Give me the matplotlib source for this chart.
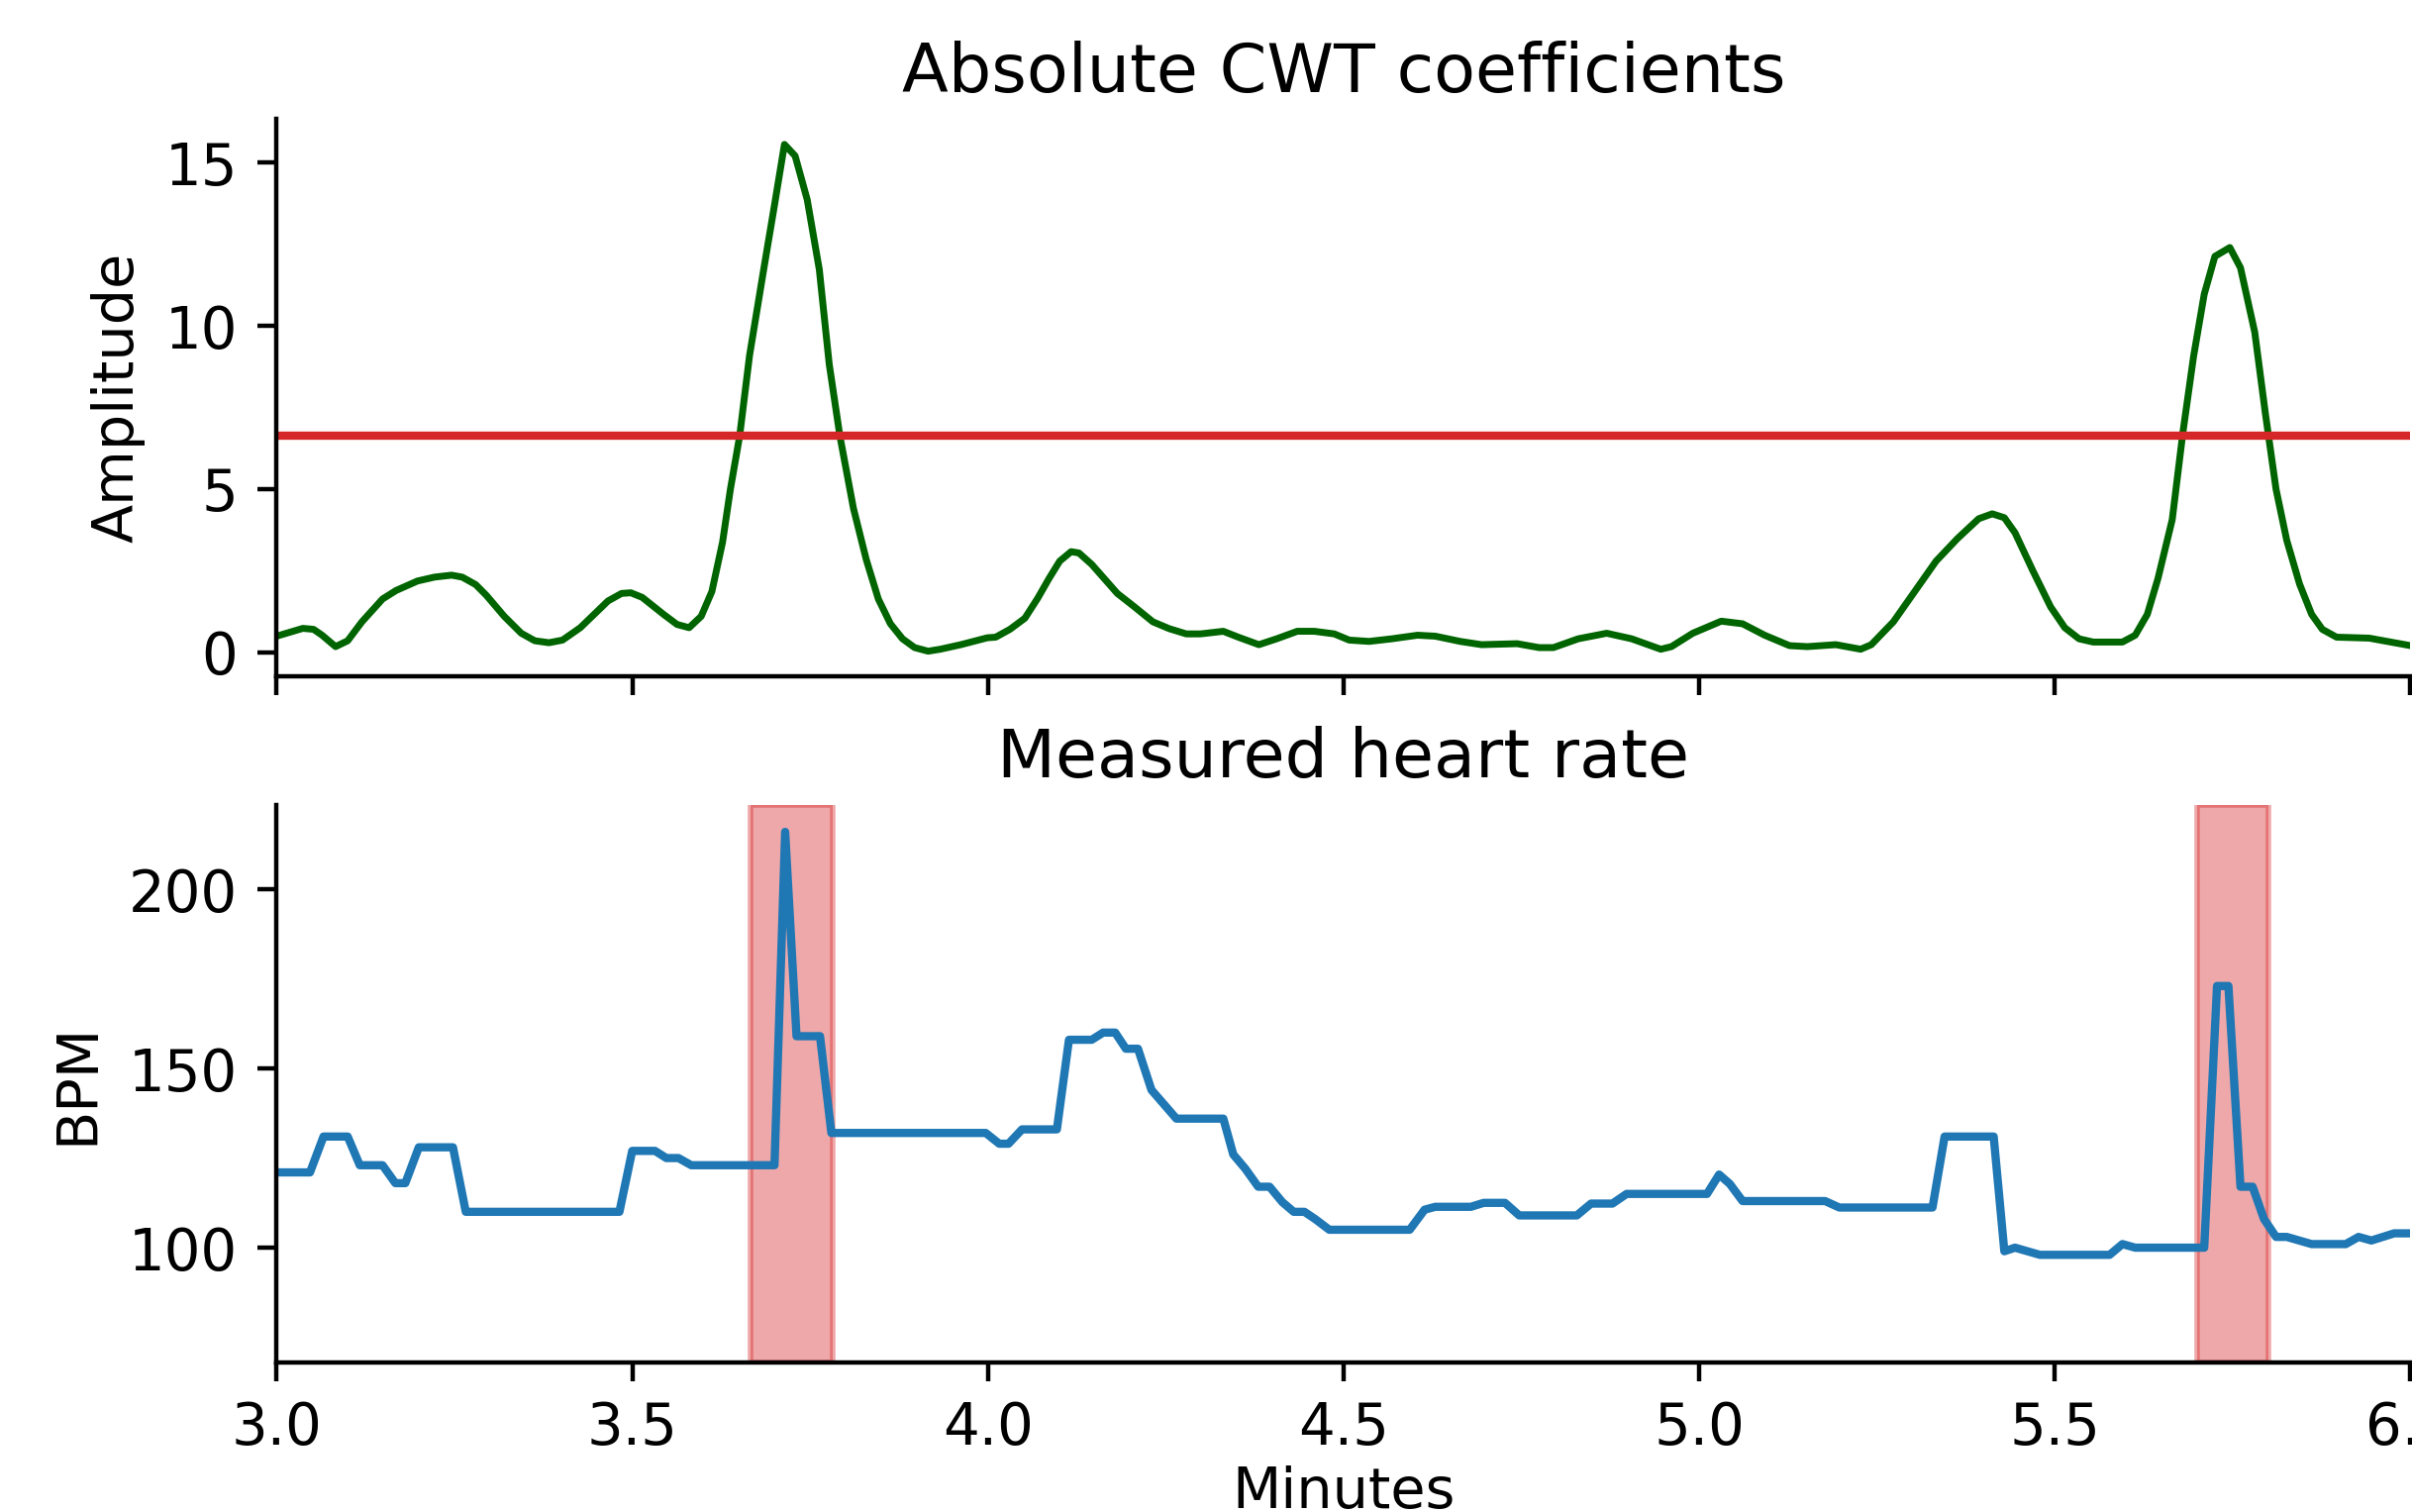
import matplotlib
matplotlib.use("Agg")
import matplotlib.pyplot as plt

# ---- data ----
cwt_minutes = [3.000, 3.037, 3.052, 3.064, 3.083, 3.100, 3.120, 3.149, 3.168, 3.198,
               3.222, 3.246, 3.261, 3.280, 3.295, 3.320, 3.344, 3.363, 3.383, 3.402,
               3.427, 3.466, 3.485, 3.498, 3.514, 3.544, 3.563, 3.580, 3.597, 3.612,
               3.627, 3.638, 3.651, 3.665, 3.685, 3.700, 3.714, 3.729, 3.746, 3.763,
               3.777, 3.792, 3.811, 3.829, 3.846, 3.863, 3.880, 3.897, 3.916, 3.933,
               3.962, 3.999, 4.011, 4.031, 4.052, 4.070, 4.086, 4.101, 4.117, 4.128,
               4.146, 4.182, 4.206, 4.232, 4.255, 4.279, 4.299, 4.331, 4.352, 4.381,
               4.406, 4.435, 4.459, 4.487, 4.508, 4.536, 4.568, 4.604, 4.629, 4.664,
               4.694, 4.744, 4.775, 4.795, 4.830, 4.870, 4.905, 4.946, 4.961, 4.991,
               5.031, 5.061, 5.092, 5.127, 5.152, 5.192, 5.227, 5.242, 5.273, 5.303,
               5.333, 5.363, 5.393, 5.412, 5.429, 5.444, 5.469, 5.494, 5.514, 5.534,
               5.554, 5.595, 5.613, 5.630, 5.645, 5.665, 5.680, 5.695, 5.710, 5.725,
               5.746, 5.761, 5.781, 5.796, 5.811, 5.826, 5.844, 5.861, 5.876, 5.896,
               5.942, 6.000]
cwt_amplitude = [0.49, 0.73, 0.70, 0.52, 0.17, 0.35, 0.93, 1.63, 1.89, 2.18,
                 2.30, 2.36, 2.30, 2.07, 1.74, 1.10, 0.58, 0.35, 0.29, 0.37,
                 0.75, 1.57, 1.80, 1.82, 1.68, 1.16, 0.85, 0.75, 1.10, 1.86,
                 3.37, 4.99, 6.62, 9.10, 11.75, 13.70, 15.56, 15.21, 13.87, 11.73,
                 8.82, 6.62, 4.41, 2.84, 1.63, 0.87, 0.41, 0.14, 0.03, 0.09,
                 0.23, 0.44, 0.46, 0.70, 1.04, 1.65, 2.26, 2.79, 3.08, 3.04,
                 2.69, 1.80, 1.39, 0.93, 0.72, 0.56, 0.56, 0.64, 0.46, 0.23,
                 0.41, 0.64, 0.64, 0.56, 0.37, 0.33, 0.41, 0.52, 0.49, 0.33,
                 0.23, 0.26, 0.14, 0.14, 0.41, 0.58, 0.41, 0.09, 0.17, 0.58,
                 0.95, 0.87, 0.52, 0.20, 0.17, 0.23, 0.09, 0.23, 0.93, 1.86,
                 2.79, 3.48, 4.09, 4.24, 4.12, 3.66, 2.50, 1.39, 0.75, 0.41,
                 0.31, 0.31, 0.52, 1.16, 2.26, 4.06, 6.73, 9.06, 10.97, 12.13,
                 12.40, 11.78, 9.81, 7.31, 4.99, 3.43, 2.09, 1.16, 0.70, 0.46,
                 0.43, 0.20]
threshold = 6.62

hr_minutes = [3.000, 3.047, 3.066, 3.100, 3.117, 3.149, 3.167, 3.181, 3.200, 3.248,
              3.266, 3.482, 3.500, 3.532, 3.548, 3.565, 3.583, 3.700, 3.715, 3.731,
              3.764, 3.780, 3.997, 4.016, 4.029, 4.048, 4.097, 4.114, 4.146, 4.162,
              4.179, 4.194, 4.211, 4.230, 4.265, 4.331, 4.345, 4.362, 4.380, 4.396,
              4.414, 4.430, 4.445, 4.460, 4.480, 4.593, 4.614, 4.629, 4.679, 4.697,
              4.727, 4.747, 4.828, 4.848, 4.878, 4.898, 5.011, 5.028, 5.043, 5.061,
              5.177, 5.197, 5.328, 5.345, 5.414, 5.429, 5.444, 5.479, 5.577, 5.595,
              5.613, 5.710, 5.728, 5.744, 5.761, 5.778, 5.794, 5.811, 5.826, 5.861,
              5.909, 5.927, 5.945, 5.977, 6.000]
hr_bpm = [121, 121, 131, 131, 123, 123, 118, 118, 128, 128,
          110, 110, 127, 127, 125, 125, 123, 123, 216, 159,
          159, 132, 132, 129, 129, 133, 133, 158, 158, 160,
          160, 155.5, 155.5, 144, 136, 136, 126, 122, 117, 117,
          112.7, 110, 110, 108, 105, 105, 110.6, 111.4, 111.4, 112.5,
          112.5, 109, 109, 112.3, 112.3, 115, 115, 120.4, 117.8, 113,
          113, 111.2, 111.2, 131, 131, 99, 100, 98, 98, 101,
          100, 100, 173, 173, 117, 117, 108, 103, 103, 101,
          101, 103, 102, 104, 104]

artifact_starts = [3.667, 5.700]
artifact_ends = [3.782, 5.800]

# ---- figure ----
plt.rcParams["xtick.labelsize"] = 10.4
plt.rcParams["ytick.labelsize"] = 10.4
plt.rcParams["axes.labelsize"] = 10.3
plt.rcParams["axes.titlesize"] = 12.3

fig = plt.figure(figsize=(6.09, 3.8175), dpi=400)
left, width = 0.11466, 0.88472
ax1 = fig.add_axes([left, 0.5527, width, 0.3684])
ax2 = fig.add_axes([left, 0.0992, width, 0.3684], sharex=ax1)

ax1.plot(cwt_minutes, cwt_amplitude, color="darkgreen", lw=1.25)
ax1.axhline(threshold, color="tab:red", lw=1.5)
ax1.set_title("Absolute CWT coefficients", pad=5.0)
ax1.set_ylabel("Amplitude", labelpad=3.6)
ax1.set_ylim(-0.74, 16.33)
ax1.set_yticks([0, 5, 10, 15])
ax1.tick_params(labelbottom=False)

for s, e in zip(artifact_starts, artifact_ends):
    ax2.axvspan(s, e, color="tab:red", alpha=0.4)
ax2.plot(hr_minutes, hr_bpm, color="tab:blue", lw=1.5)
ax2.set_title("Measured heart rate", pad=5.0)
ax2.set_ylabel("BPM", labelpad=4.2)
ax2.set_xlabel("Minutes", labelpad=1.6)
ax2.set_ylim(68.1, 223.5)
ax2.set_yticks([100, 150, 200])
ax2.set_xlim(3.0, 6.0)
ax2.set_xticks([3.0, 3.5, 4.0, 4.5, 5.0, 5.5, 6.0])

for ax in (ax1, ax2):
    ax.spines["top"].set_visible(False)
    ax.spines["right"].set_visible(False)

fig.savefig("out.png", dpi=400)
